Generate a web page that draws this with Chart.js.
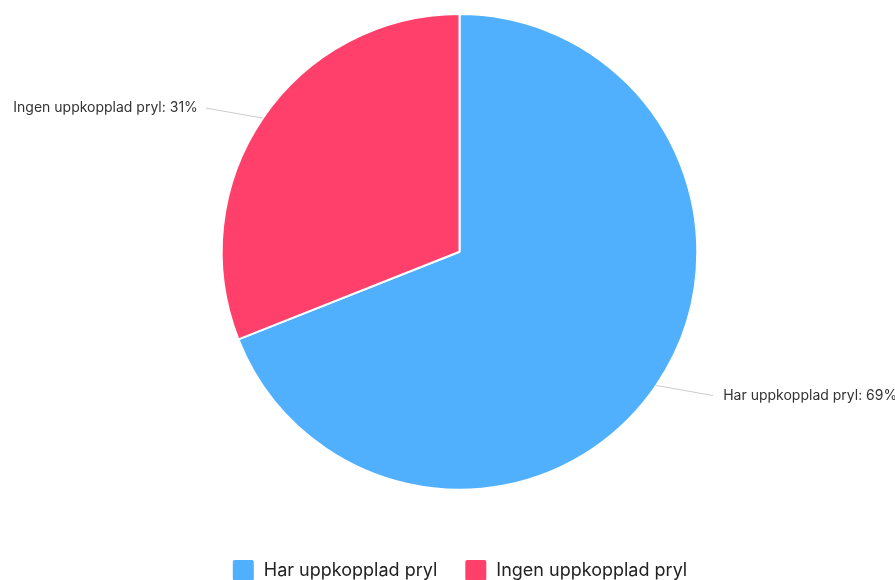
<!DOCTYPE html>
<html lang="sv">
<head>
  <meta charset="UTF-8">
  <title>Uppkopplad pryl</title>
  <script src="https://cdn.jsdelivr.net/npm/chart.js"></script>
  <style>
    html, body {
      margin: 0;
      padding: 0;
      background: #ffffff;
      overflow: hidden;
    }
    #wrap {
      position: relative;
      width: 895px;
      height: 592px;
    }
  </style>
</head>
<body>
<div id="wrap">
  <canvas id="pryl"></canvas>
</div>
<script>
  const labels = ['Har uppkopplad pryl', 'Ingen uppkopplad pryl'];
  const values = [69, 31];
  const colors = ['rgb(80, 176, 254)', 'rgb(255, 64, 106)'];

  // labels outside the pie with a thin leader line
  const outsideLabels = {
    id: 'outsideLabels',
    afterDatasetsDraw(chart) {
      const ctx = chart.ctx;
      const meta = chart.getDatasetMeta(0);
      ctx.save();
      ctx.font = '14px Inter, "Noto Sans", sans-serif';
      ctx.textBaseline = 'middle';
      meta.data.forEach((arc, i) => {
        const p = arc.getProps(['x', 'y', 'startAngle', 'endAngle', 'outerRadius'], true);
        const mid = (p.startAngle + p.endAngle) / 2;
        const sx = p.x + Math.cos(mid) * p.outerRadius;
        const sy = p.y + Math.sin(mid) * p.outerRadius;
        const right = Math.cos(mid) >= 0;
        const ex = sx + (right ? 57 : -57);
        const ey = sy + Math.sin(mid) * 18;
        ctx.strokeStyle = '#cccccc';
        ctx.lineWidth = 1;
        ctx.beginPath();
        ctx.moveTo(sx, sy);
        ctx.lineTo(ex, ey);
        ctx.stroke();
        ctx.fillStyle = '#333333';
        ctx.textAlign = right ? 'left' : 'right';
        ctx.fillText(labels[i] + ': ' + values[i] + '%', ex + (right ? 10 : -8), ey);
      });
      ctx.restore();
    }
  };

  new Chart(document.getElementById('pryl'), {
    type: 'pie',
    data: {
      labels: labels,
      datasets: [{
        data: values,
        backgroundColor: colors,
        borderColor: '#ffffff',
        borderWidth: 2
      }]
    },
    options: {
      responsive: true,
      maintainAspectRatio: false,
      animation: false,
      layout: { padding: { top: 13, bottom: 0, left: 24 } },
      plugins: {
        tooltip: { enabled: false },
        legend: {
          position: 'bottom',
          title: { display: true, text: '', padding: { top: 27, bottom: 0 } },
          labels: {
            boxWidth: 23,
            boxHeight: 23,
            useBorderRadius: true,
            borderRadius: 3,
            padding: 27,
            color: '#222222',
            font: { size: 18, family: 'Inter, "Noto Sans", sans-serif' }
          }
        }
      }
    },
    plugins: [outsideLabels]
  });
</script>
</body>
</html>
